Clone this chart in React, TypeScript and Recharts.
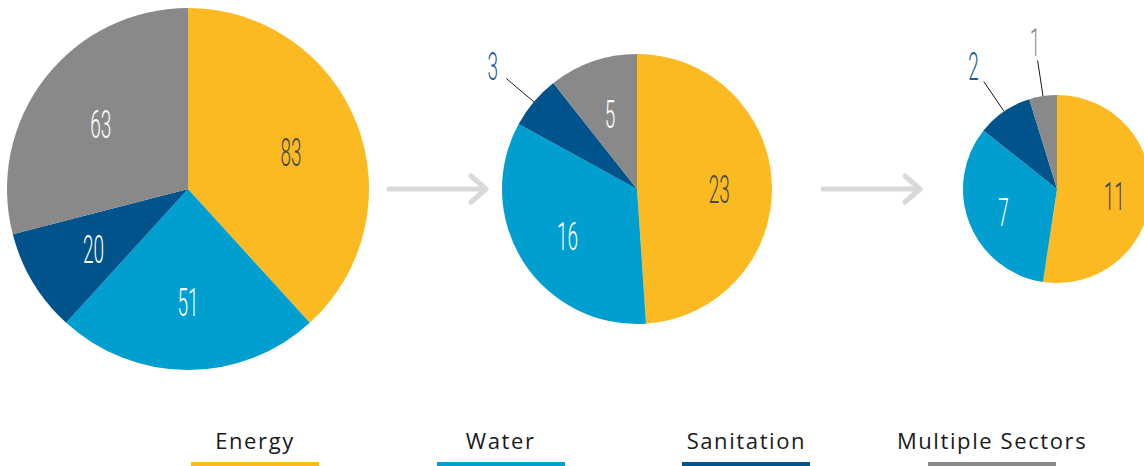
import React from 'react';
import { PieChart, Pie, Cell, Legend } from 'recharts';

const categories = ['Energy', 'Water', 'Sanitation', 'Multiple Sectors'];
const colors = ['#FBBA22', '#009FCF', '#00538B', '#898989'];
const insideLabelColors = ['#474747', '#ffffff', '#ffffff', '#ffffff'];
const outsideLabelColors = ['#474747', '#1B5D95', '#1B5D95', '#8C8C8C'];
const pie1Values = [83, 51, 20, 63];
const pie2Values = [23, 16, 3, 5];
const pie3Values = [11, 7, 2, 1];

const toData = (vals: number[]) => categories.map((name, i) => ({ name, value: vals[i] }));
const pie1Data = toData(pie1Values);
const pie2Data = toData(pie2Values);
const pie3Data = toData(pie3Values);

const RAD = Math.PI / 180;
const DIGIT_SIZE = 38;

const Digits = ({ x, y, fill, text }: { x: number; y: number; fill: string; text: string }) => (
  <text
    transform={`translate(${x},${y + DIGIT_SIZE * 0.355}) scale(0.5,1)`}
    x={0}
    y={0}
    textAnchor="middle"
    fill={fill}
    style={{ fontFamily: 'Roboto, sans-serif', fontWeight: 300, fontSize: DIGIT_SIZE }}
  >
    {text}
  </text>
);

const renderLabel = (props: any) => {
  const { cx, cy, midAngle, outerRadius, percent, value, index } = props;
  const c = Math.cos(-midAngle * RAD);
  const s = Math.sin(-midAngle * RAD);
  const arc = percent * 2 * Math.PI * outerRadius;
  if (arc < 70) {
    const r1 = outerRadius;
    const r2 = outerRadius + 36;
    const r3 = outerRadius + 54;
    return (
      <g>
        <line x1={cx + r1 * c} y1={cy + r1 * s} x2={cx + r2 * c} y2={cy + r2 * s} stroke="#1a1a1a" strokeWidth={1} />
        <Digits x={cx + r3 * c} y={cy + r3 * s} fill={outsideLabelColors[index]} text={String(value)} />
      </g>
    );
  }
  const r = outerRadius * 0.61;
  return <Digits x={cx + r * c} y={cy + r * s + 3} fill={insideLabelColors[index]} text={String(value)} />;
};

const LEGEND_LEFT = 191;
const LEGEND_STEP = 245.7;
const LEGEND_W = 128;

const renderLegend = () => (
  <div style={{ position: 'relative', width: 1144, height: 48 }}>
    {categories.map((c, i) => (
      <div
        key={c}
        style={{ position: 'absolute', left: LEGEND_LEFT + i * LEGEND_STEP, top: 0, width: LEGEND_W }}
      >
        <div
          style={{
            position: 'absolute',
            left: -60,
            width: LEGEND_W + 120,
            top: 11,
            textAlign: 'center',
            fontFamily: '"Open Sans", sans-serif',
            fontSize: 22,
            lineHeight: '22px',
            letterSpacing: 1.6,
            color: '#1a1a1a',
            whiteSpace: 'nowrap',
          }}
        >
          {c}
        </div>
        <div style={{ position: 'absolute', left: 0, top: 44, width: LEGEND_W, height: 4, background: colors[i] }} />
      </div>
    ))}
  </div>
);

const Arrow = ({ x1, x2, y }: { x1: number; x2: number; y: number }) => (
  <g stroke="#D9D9D9" strokeWidth={5} strokeLinecap="round" strokeLinejoin="round" fill="none">
    <line x1={x1} y1={y} x2={x2} y2={y} />
    <polyline points={`${x2 - 15},${y - 13} ${x2},${y} ${x2 - 15},${y + 13}`} />
  </g>
);

export default function App() {
  return (
    <div style={{ position: 'absolute', left: 0, top: 0, width: 1144, height: 466, background: '#fff', overflow: 'hidden' }}>
      <PieChart width={1144} height={466} margin={{ top: 0, right: 0, bottom: 0, left: 0 }}>
        <Pie
          data={pie1Data}
          dataKey="value"
          nameKey="name"
          cx={188}
          cy={189}
          outerRadius={181}
          startAngle={90}
          endAngle={-270}
          stroke="none"
          label={renderLabel}
          labelLine={false}
          isAnimationActive={false}
        >
          {pie1Data.map((d, i) => (
            <Cell key={d.name} fill={colors[i]} />
          ))}
        </Pie>
        <Pie
          data={pie2Data}
          dataKey="value"
          nameKey="name"
          cx={637}
          cy={189}
          outerRadius={135}
          startAngle={90}
          endAngle={-270}
          stroke="none"
          label={renderLabel}
          labelLine={false}
          isAnimationActive={false}
        >
          {pie2Data.map((d, i) => (
            <Cell key={d.name} fill={colors[i]} />
          ))}
        </Pie>
        <Pie
          data={pie3Data}
          dataKey="value"
          nameKey="name"
          cx={1057}
          cy={189}
          outerRadius={94}
          startAngle={90}
          endAngle={-270}
          stroke="none"
          label={renderLabel}
          labelLine={false}
          isAnimationActive={false}
        >
          {pie3Data.map((d, i) => (
            <Cell key={d.name} fill={colors[i]} />
          ))}
        </Pie>
        <Legend
          verticalAlign="bottom"
          content={renderLegend}
          wrapperStyle={{ position: 'absolute', left: 0, top: 418, width: 1144, height: 48 }}
        />
      </PieChart>
      <svg width={1144} height={466} style={{ position: 'absolute', left: 0, top: 0, pointerEvents: 'none' }}>
        <Arrow x1={389} x2={486} y={189} />
        <Arrow x1={823} x2={920} y={189} />
      </svg>
    </div>
  );
}
